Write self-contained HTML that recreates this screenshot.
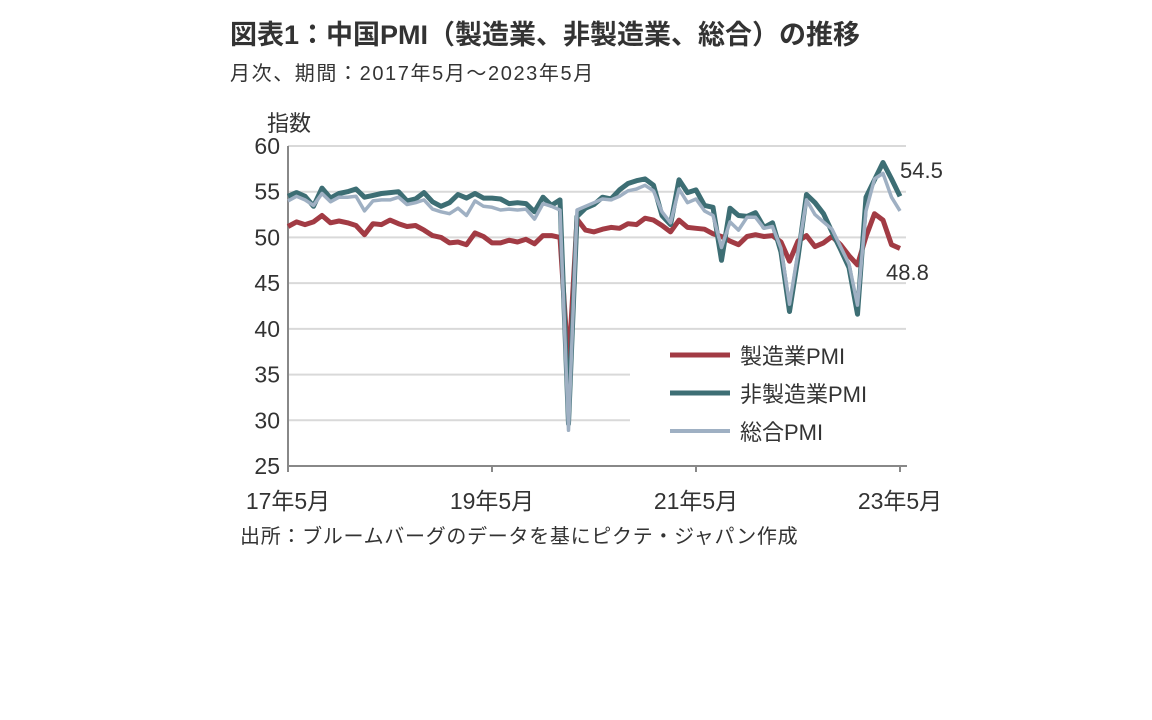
<!DOCTYPE html>
<html><head><meta charset="utf-8"><style>
body{margin:0;background:#fff;}
svg{display:block;font-family:"Liberation Sans","Noto Sans CJK JP",sans-serif;}
</style></head><body>
<svg id="chart" width="1152" height="720">
<text x="230" y="44" font-size="27" font-weight="bold" fill="#333">図表1：中国PMI（製造業、非製造業、総合）の推移</text>
<text x="230" y="80" font-size="20" fill="#333" letter-spacing="1.6">月次、期間：2017年5月～2023年5月</text>
<text x="267" y="131" font-size="22" fill="#333">指数</text>
<g id="grid"></g>
<rect x="630" y="340" width="278" height="105" fill="#fff"/>
<g id="axes"></g>
<g id="series"></g>
<g>
<line x1="670" y1="355" x2="730" y2="355" stroke="#a23b44" stroke-width="5"/>
<text x="740" y="364" font-size="22" fill="#333">製造業PMI</text>
<line x1="670" y1="393" x2="730" y2="393" stroke="#3d6e74" stroke-width="5"/>
<text x="740" y="402" font-size="22" fill="#333">非製造業PMI</text>
<line x1="670" y1="431" x2="730" y2="431" stroke="#9fb0c3" stroke-width="4"/>
<text x="740" y="440" font-size="22" fill="#333">総合PMI</text>
</g>
<text x="900" y="178" font-size="22" fill="#333">54.5</text>
<text x="886" y="280" font-size="22" fill="#333">48.8</text>
<text x="240" y="543" font-size="20" fill="#333" letter-spacing="0.7">出所：ブルームバーグのデータを基にピクテ・ジャパン作成</text>
</svg>
<script>
const yTicks=[25,30,35,40,45,50,55,60];
const xTickLabels=["17年5月","19年5月","21年5月","23年5月"];
const xTickIdx=[0,24,48,72];
const manufacturing=[51.2,51.7,51.4,51.7,52.4,51.6,51.8,51.6,51.3,50.3,51.5,51.4,51.9,51.5,51.2,51.3,50.8,50.2,50.0,49.4,49.5,49.2,50.5,50.1,49.4,49.4,49.7,49.5,49.8,49.3,50.2,50.2,50.0,35.7,52.0,50.8,50.6,50.9,51.1,51.0,51.5,51.4,52.1,51.9,51.3,50.6,51.9,51.1,51.0,50.9,50.4,50.1,49.6,49.2,50.1,50.3,50.1,50.2,49.5,47.4,49.6,50.2,49.0,49.4,50.1,49.2,48.0,47.0,50.1,52.6,51.9,49.2,48.8];
const nonManufacturing=[54.5,54.9,54.5,53.4,55.4,54.3,54.8,55.0,55.3,54.4,54.6,54.8,54.9,55.0,54.0,54.2,54.9,53.9,53.4,53.8,54.7,54.3,54.8,54.3,54.3,54.2,53.7,53.8,53.7,52.8,54.4,53.5,54.1,29.6,52.3,53.2,53.6,54.4,54.2,55.2,55.9,56.2,56.4,55.7,52.4,51.4,56.3,54.9,55.2,53.5,53.3,47.5,53.2,52.4,52.3,52.7,51.1,51.6,48.4,41.9,47.8,54.7,53.8,52.6,50.6,48.7,46.7,41.6,54.4,56.3,58.2,56.4,54.5];
const composite=[54.0,54.5,54.1,53.5,54.8,53.9,54.4,54.4,54.5,52.9,54.0,54.1,54.1,54.4,53.6,53.8,54.1,53.1,52.8,52.6,53.2,52.4,54.0,53.4,53.3,53.0,53.1,53.0,53.1,52.0,53.7,53.4,53.0,28.9,53.0,53.4,53.8,54.2,54.1,54.5,55.1,55.3,55.7,55.1,52.8,51.6,55.3,53.8,54.2,52.9,52.4,48.9,51.7,50.8,52.2,52.2,51.0,51.2,48.8,42.7,48.4,54.1,52.5,51.7,50.9,49.0,47.1,42.6,52.9,56.4,57.0,54.4,52.9];
const NS="http://www.w3.org/2000/svg";
const X0=288,X1=900,Y0=466,Y1=146;
const xScale=i=>X0+i*(X1-X0)/72;
const yScale=v=>Y0-(v-25)*(Y0-Y1)/35;
function mk(tag,attrs,parent){const e=document.createElementNS(NS,tag);for(const k in attrs)e.setAttribute(k,attrs[k]);parent.appendChild(e);return e;}
const grid=document.getElementById('grid'),axes=document.getElementById('axes'),series=document.getElementById('series');
yTicks.forEach(v=>{
  if(v>25){const g=mk('line',{x1:X0,x2:906,y1:yScale(v),y2:yScale(v),stroke:'#d9d9d9','stroke-width':2},grid);
  
  }
  const t=mk('text',{x:X0-8,y:yScale(v)+8,'text-anchor':'end','font-size':23,fill:'#333'},axes);
  t.textContent=v;
  
  
});
const ya=mk('line',{x1:X0,x2:X0,y1:Y1,y2:Y0,stroke:'#888','stroke-width':2},axes);


const xa=mk('line',{x1:X0,x2:907,y1:Y0,y2:Y0,stroke:'#888','stroke-width':2},axes);


xTickIdx.forEach((idx,k)=>{
  mk('line',{x1:xScale(idx),x2:xScale(idx),y1:Y0,y2:Y0+6,stroke:'#888','stroke-width':2},axes);
  const t=mk('text',{x:xScale(idx),y:509,'text-anchor':'middle','font-size':23,fill:'#333'},axes);
  t.textContent=xTickLabels[k];
  
  
});
function line(data,color,w,name){
  const d=data.map((v,i)=>(i?'L':'M')+xScale(i).toFixed(1)+','+yScale(v).toFixed(1)).join('');
  const p=mk('path',{d:d,fill:'none',stroke:color,'stroke-width':w,'stroke-linejoin':'round'},series);
  
  
}
line(manufacturing,'#a23b44',5,'manufacturing-pmi-line');
line(nonManufacturing,'#3d6e74',5,'nonmanufacturing-pmi-line');
line(composite,'#9fb0c3',3.5,'composite-pmi-line');
</script>
</body></html>
